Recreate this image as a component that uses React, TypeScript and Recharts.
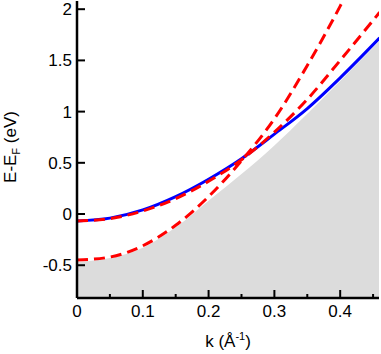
import { ComposedChart, Line, Area, XAxis, YAxis } from 'recharts';

// k grid shared by the blue band, the upper red band and the shaded edge
const kGrid = [0, 0.05, 0.1, 0.15, 0.2, 0.25, 0.3, 0.35, 0.4, 0.46];
const blueE = [-0.068, -0.04, 0.04, 0.17, 0.34, 0.54, 0.78, 1.03, 1.33, 1.72];
const redUpperE = [-0.068, -0.045, 0.03, 0.15, 0.32, 0.53, 0.8, 1.12, 1.5, 1.97];
const edgeE = [-0.47, -0.43, -0.33, -0.13, 0.13, 0.39, 0.67, 0.98, 1.3, 1.69];

// lower red band leaves the frame at the top near k = 0.4
const kLower = [0, 0.05, 0.1, 0.15, 0.2, 0.25, 0.3, 0.35, 0.4, 0.42];
const redLowerE = [-0.45, -0.42, -0.31, -0.11, 0.17, 0.52, 0.93, 1.45, 2.03, 2.28];

const xTicks = [0, 0.05, 0.1, 0.15, 0.2, 0.25, 0.3, 0.35, 0.4, 0.45];
const yTicks = [-0.5, 0, 0.5, 1, 1.5, 2];

const X_DOMAIN = [0, 0.459];
const Y_DOMAIN = [-0.82, 2.08];

const FONT = '"Liberation Sans", Arial, Helvetica, sans-serif';

const mainData = kGrid.map((k, i) => ({ k, blue: blueE[i], redUpper: redUpperE[i], edge: edgeE[i] }));
const lowerData = kLower.map((k, i) => ({ k, redLower: redLowerE[i] }));

const isMajor = (v: number) => Math.abs(v * 10 - Math.round(v * 10)) < 1e-6;

const BottomTick = (props: any) => {
    const { x, y, payload } = props;
    const major = isMajor(payload.value);
    return (
        <g>
            <line x1={x} x2={x} y1={y} y2={y - (major ? 8 : 4)} stroke="#000" strokeWidth={2} />
            {major && (
                <text x={x} y={y + 19} textAnchor="middle" fontSize={17} fontFamily={FONT} fill="#000">
                    {String(payload.value)}
                </text>
            )}
        </g>
    );
};

const TopTick = (props: any) => {
    const { x, y, payload } = props;
    const major = isMajor(payload.value);
    return <line x1={x} x2={x} y1={y} y2={y + (major ? 8 : 4)} stroke="#000" strokeWidth={2} />;
};

const LeftTick = (props: any) => {
    const { x, y, payload } = props;
    return (
        <g>
            <line x1={x} x2={x + 8} y1={y} y2={y} stroke="#000" strokeWidth={2} />
            <text x={x - 5} y={y + 6} textAnchor="end" fontSize={17} fontFamily={FONT} fill="#000">
                {String(payload.value)}
            </text>
        </g>
    );
};

const RightTick = (props: any) => {
    const { x, y } = props;
    return <line x1={x} x2={x - 8} y1={y} y2={y} stroke="#000" strokeWidth={2} />;
};

const axisLine = { stroke: '#000', strokeWidth: 2.5 };

export default function App() {
    return (
        <div style={{ position: 'absolute', left: 0, top: 0, background: '#fff' }}>
            <ComposedChart width={381} height={354} data={mainData} margin={{ top: 1, right: 2, bottom: 0, left: 0 }}>
                <XAxis
                    xAxisId="b"
                    dataKey="k"
                    type="number"
                    domain={X_DOMAIN}
                    allowDataOverflow
                    ticks={xTicks}
                    interval={0}
                    height={56}
                    tickSize={0}
                    tickMargin={0}
                    tickLine={false}
                    axisLine={axisLine}
                    tick={<BottomTick />}
                    label={{
                        content: () => (
                            <text x={228} y={347} textAnchor="middle" fontSize={17} fontFamily={FONT} fill="#000">
                                k (Å
                                <tspan dy={-7} fontSize={11}>-1</tspan>
                                <tspan dy={7}>)</tspan>
                            </text>
                        ),
                    }}
                />
                <XAxis
                    xAxisId="t"
                    orientation="top"
                    dataKey="k"
                    type="number"
                    domain={X_DOMAIN}
                    allowDataOverflow
                    ticks={xTicks}
                    interval={0}
                    height={0}
                    tickSize={0}
                    tickMargin={0}
                    tickLine={false}
                    axisLine={axisLine}
                    tick={<TopTick />}
                />
                <YAxis
                    yAxisId="l"
                    type="number"
                    domain={Y_DOMAIN}
                    allowDataOverflow
                    ticks={yTicks}
                    interval={0}
                    width={77}
                    tickSize={0}
                    tickMargin={0}
                    tickLine={false}
                    axisLine={axisLine}
                    tick={<LeftTick />}
                    label={{
                        content: () => (
                            <text
                                x={16}
                                y={147}
                                transform="rotate(-90, 16, 147)"
                                textAnchor="middle"
                                fontSize={17}
                                fontFamily={FONT}
                                fill="#000"
                            >
                                E-E
                                <tspan dy={4} fontSize={11}>F</tspan>
                                <tspan dy={-4}> (eV)</tspan>
                            </text>
                        ),
                    }}
                />
                <YAxis
                    yAxisId="r"
                    orientation="right"
                    type="number"
                    domain={Y_DOMAIN}
                    allowDataOverflow
                    ticks={yTicks}
                    interval={0}
                    width={0}
                    tickSize={0}
                    tickMargin={0}
                    tickLine={false}
                    axisLine={axisLine}
                    tick={<RightTick />}
                />
                <Area
                    xAxisId="b"
                    yAxisId="l"
                    dataKey="edge"
                    type="monotone"
                    baseValue="dataMin"
                    fill="#dcdcdc"
                    fillOpacity={1}
                    stroke="none"
                    isAnimationActive={false}
                />
                <Line
                    xAxisId="b"
                    yAxisId="l"
                    dataKey="blue"
                    type="monotone"
                    stroke="#0000ff"
                    strokeWidth={3}
                    dot={false}
                    isAnimationActive={false}
                />
                <Line
                    xAxisId="b"
                    yAxisId="l"
                    dataKey="redUpper"
                    type="monotone"
                    stroke="#ff0000"
                    strokeWidth={3}
                    strokeDasharray="11 6"
                    dot={false}
                    isAnimationActive={false}
                />
                <Line
                    xAxisId="b"
                    yAxisId="l"
                    data={lowerData}
                    dataKey="redLower"
                    type="monotone"
                    stroke="#ff0000"
                    strokeWidth={3}
                    strokeDasharray="11 6"
                    dot={false}
                    isAnimationActive={false}
                />
            </ComposedChart>
        </div>
    );
}
